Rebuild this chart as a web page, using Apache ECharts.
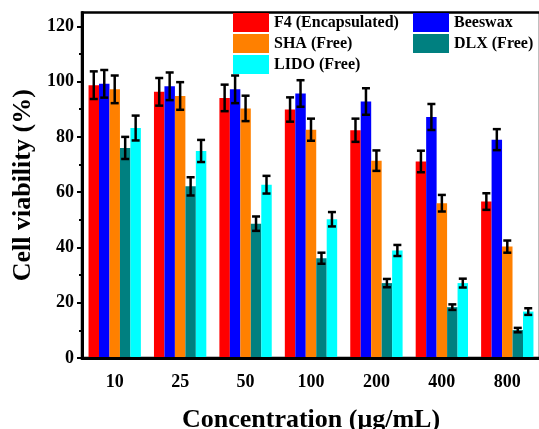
<!DOCTYPE html>
<html><head><meta charset="utf-8">
<script src="https://cdn.jsdelivr.net/npm/echarts@6/dist/echarts.min.js"></script>
<style>html,body{margin:0;padding:0;background:#fff}#c{width:539px;height:429px}</style>
</head><body><div id="c"></div>
<script>
const categories = ['10','25','50','100','200','400','800'];
const seriesNames = ['F4 (Encapsulated)','Beeswax','SHA (Free)','DLX (Free)','LIDO (Free)'];
const f4 = [98.7, 96.3, 94.1, 89.9, 82.4, 71.1, 56.6];
const f4Err = [5.0, 5.0, 4.8, 4.4, 4.2, 3.9, 3.0];
const beeswax = [99.2, 98.3, 97.2, 95.7, 92.8, 87.2, 79.0];
const beeswaxErr = [5.0, 5.0, 5.0, 4.8, 4.8, 4.7, 3.8];
const sha = [97.2, 94.8, 90.3, 82.6, 71.4, 56.0, 40.3];
const shaErr = [5.0, 5.0, 4.6, 4.0, 3.7, 3.0, 2.2];
const dlx = [76.0, 62.1, 48.6, 36.1, 27.1, 18.4, 10.1];
const dlxErr = [4.0, 3.3, 2.6, 2.0, 1.5, 1.0, 0.8];
const lido = [83.2, 74.9, 62.7, 50.2, 38.9, 27.1, 16.8];
const lidoErr = [4.5, 4.0, 3.2, 2.6, 2.0, 1.6, 1.2];
const yTicks = [0, 20, 40, 60, 80, 100, 120];
const yMinorTicks = [10, 30, 50, 70, 90, 110];

const colors = ['#FF0000', '#0000FF', '#FF8000', '#008080', '#00FFFF'];
const values = [f4, beeswax, sha, dlx, lido];
const errs = [f4Err, beeswaxErr, shaErr, dlxErr, lidoErr];
const FONT = "'Liberation Serif', 'Times New Roman', serif";
const nBars = 5;
const catGap = 0.2;

const series = [];
values.forEach((v, i) => {
  series.push({
    name: seriesNames[i], type: 'bar', data: v,
    barGap: 0, barCategoryGap: (catGap * 100) + '%',
    itemStyle: { color: colors[i] }, z: 2
  });
});
values.forEach((v, i) => {
  series.push({
    name: 'err' + i, type: 'custom', z: 5,
    data: v.map((val, k) => [k, val - errs[i][k], val + errs[i][k]]),
    encode: { x: 0, y: [1, 2] },
    renderItem: function (params, api) {
      const c = api.value(0);
      const lo = api.coord([c, api.value(1)]);
      const hi = api.coord([c, api.value(2)]);
      const band = api.size([1, 0])[0];
      const barW = band * (1 - catGap) / nBars;
      const x = lo[0] + (i - (nBars - 1) / 2) * barW;
      const cap = 4;
      const st = { stroke: '#000', lineWidth: 2.5 };
      return { type: 'group', children: [
        { type: 'line', shape: { x1: x, y1: lo[1], x2: x, y2: hi[1] }, style: st },
        { type: 'line', shape: { x1: x - cap, y1: lo[1], x2: x + cap, y2: lo[1] }, style: st },
        { type: 'line', shape: { x1: x - cap, y1: hi[1], x2: x + cap, y2: hi[1] }, style: st }
      ]};
    }
  });
});

const legendText = { fontFamily: FONT, fontWeight: 'bold', fontSize: 16, color: '#000' };
const gridBox = { left: 82, right: -1, top: 12.5, bottom: 71, outerBoundsMode: 'none' };
const option = {
  animation: false,
  grid: [
    Object.assign({ show: true, borderColor: '#000', borderWidth: 2.5, backgroundColor: 'transparent' }, gridBox),
    Object.assign({}, gridBox)
  ],
  legend: [
    { data: [seriesNames[0], seriesNames[2], seriesNames[4]], orient: 'vertical', left: 233, top: 13,
      itemWidth: 36, itemHeight: 19, itemGap: 2, icon: 'rect', textStyle: legendText, padding: 0 },
    { data: [seriesNames[1], seriesNames[3]], orient: 'vertical', left: 413, top: 13,
      itemWidth: 36, itemHeight: 19, itemGap: 2, icon: 'rect', textStyle: legendText, padding: 0 }
  ],
  xAxis: [{
    type: 'category', data: categories, gridIndex: 0, z: 10,
    name: 'Concentration (μg/mL)', nameLocation: 'middle', nameGap: 49,
    nameTextStyle: { fontFamily: FONT, fontWeight: 'bold', fontSize: 26, color: '#000' },
    axisLine: { lineStyle: { color: '#000', width: 3 } },
    axisTick: { alignWithLabel: true, length: 6, lineStyle: { color: '#000', width: 2 } },
    axisLabel: { fontFamily: FONT, fontWeight: 'bold', fontSize: 18, color: '#000', margin: 15 }
  }, {
    type: 'category', data: categories, gridIndex: 1, position: 'bottom', z: 10,
    axisLine: { show: false },
    axisTick: { length: 3, lineStyle: { color: '#000', width: 2 } },
    axisLabel: { show: false }
  }],
  yAxis: [{
    type: 'value', min: 0, max: 125, interval: 20, gridIndex: 0, z: 10,
    name: 'Cell viability (%)', nameLocation: 'middle', nameGap: 45,
    nameTextStyle: { fontFamily: FONT, fontWeight: 'bold', fontSize: 26, color: '#000' },
    axisLine: { show: true, lineStyle: { color: '#000', width: 3 } },
    axisTick: { show: true, length: 5, lineStyle: { color: '#000', width: 2 }, customValues: yTicks },
    axisLabel: { fontFamily: FONT, fontWeight: 'bold', fontSize: 18, color: '#000', margin: 8, customValues: yTicks },
    splitLine: { show: false }
  }, {
    type: 'value', min: 0, max: 125, interval: 20, gridIndex: 1, position: 'left', z: 10,
    axisLine: { show: false },
    axisTick: { show: true, length: 3, lineStyle: { color: '#000', width: 2 }, customValues: yMinorTicks },
    axisLabel: { show: false, customValues: yMinorTicks },
    splitLine: { show: false }
  }],
  series: series
};
const chart = echarts.init(document.getElementById('c'));
chart.setOption(option);
</script></body></html>
